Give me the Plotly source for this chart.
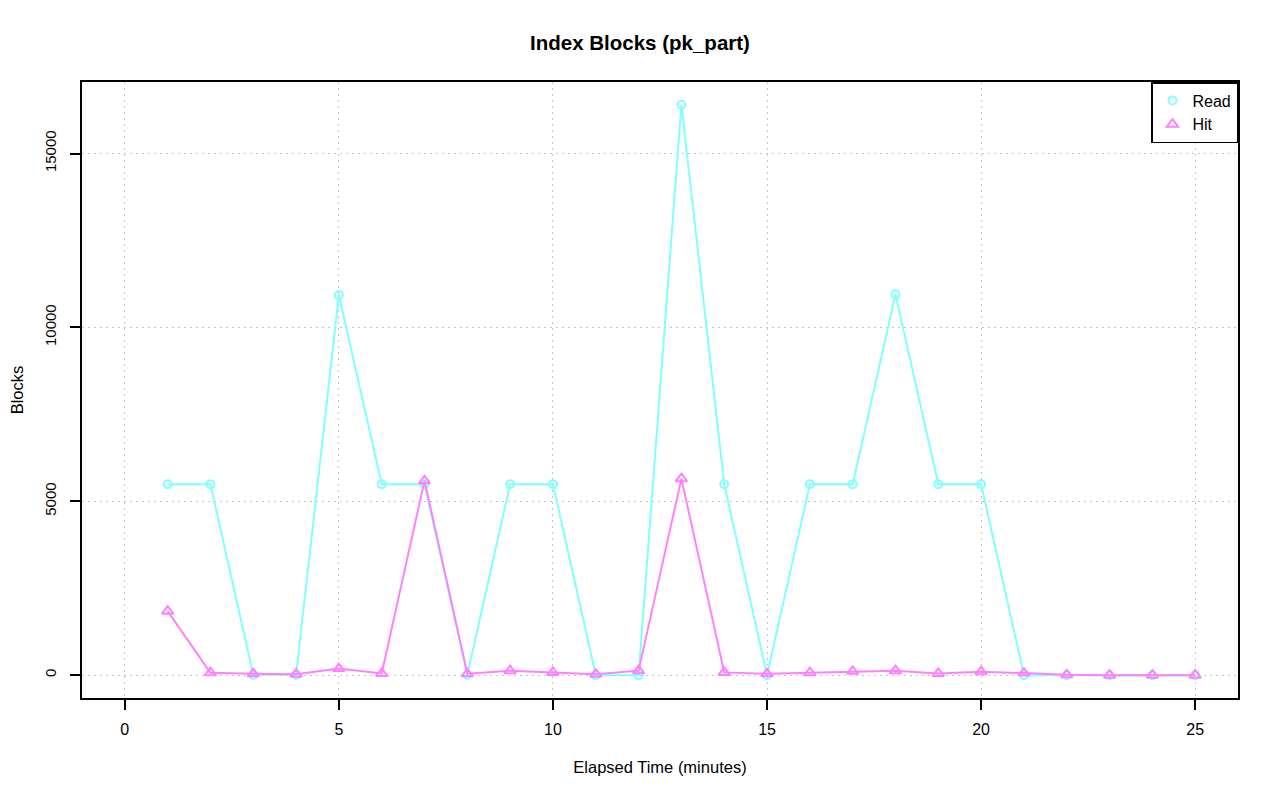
import plotly.graph_objects as go

minutes = list(range(1, 26))
read_blocks = [5490, 5490, 10, 10, 10930, 5490, 5490, 10, 5490, 5490, 0, 0, 16400,
               5490, 0, 5490, 5490, 10950, 5490, 5490, 0, 0, 0, 0, 0]
hit_blocks = [1840, 70, 40, 30, 190, 50, 5590, 40, 130, 80, 30, 130, 5650,
              80, 40, 70, 110, 130, 50, 100, 60, 10, 0, 0, 0]

x_ticks = [0, 5, 10, 15, 20, 25]
y_ticks = [0, 5000, 10000, 15000]

font_family = "Liberation Sans, Arial, sans-serif"
cyan = "#80FFFF"
magenta = "#FF80FF"

# page body has an 8px margin; compensate so the plot lands at the reference position
W, H = 1264, 785

fig = go.Figure()
fig.add_trace(go.Scatter(
    x=minutes, y=read_blocks, name="Read", mode="lines+markers", showlegend=False,
    line=dict(color=cyan, width=2),
    marker=dict(symbol="circle-open", size=8, color=cyan, line=dict(width=2)),
))
fig.add_trace(go.Scatter(
    x=minutes, y=hit_blocks, name="Hit", mode="lines+markers", showlegend=False,
    line=dict(color=magenta, width=2),
    marker=dict(symbol="triangle-up-open", size=10, color=magenta, line=dict(width=2)),
))
# marker-only legend entries
fig.add_trace(go.Scatter(
    x=[None], y=[None], name="Read", mode="markers",
    marker=dict(symbol="circle-open", size=8, color=cyan, line=dict(width=2)),
))
fig.add_trace(go.Scatter(
    x=[None], y=[None], name="Hit", mode="markers",
    marker=dict(symbol="triangle-up-open", size=10, color=magenta, line=dict(width=2)),
))

ymax = max(read_blocks)
pad = ymax * 0.04

fig.update_layout(
    width=W, height=H,
    paper_bgcolor="white", plot_bgcolor="white",
    margin=dict(l=74, r=34, t=74, b=95, autoexpand=False),
    title=dict(text="<b>Index Blocks (pk_part)</b>", x=0.5, xanchor="center",
               y=1 - 35 / H, yanchor="middle",
               font=dict(family=font_family, size=20.5, color="black")),
    font=dict(family=font_family, size=15, color="black"),
    showlegend=True,
    legend=dict(x=1, y=1, xanchor="right", yanchor="top",
                bordercolor="black", borderwidth=1.5, bgcolor="white",
                font=dict(size=16), tracegroupgap=0, itemwidth=30),
    xaxis=dict(
        range=[-1, 26], tickvals=x_ticks, ticktext=[str(t) for t in x_ticks],
        automargin=False,
        showgrid=True, gridcolor="#C4C4C4", griddash="2px,4px", gridwidth=1,
        zeroline=False, showline=True, mirror=True, linecolor="black", linewidth=2,
        ticks="outside", ticklen=10, tickwidth=1.5, tickcolor="black",
        tickfont=dict(size=16), ticklabelstandoff=6,
        title=dict(text="Elapsed Time (minutes)", font=dict(size=16.5), standoff=24),
    ),
    yaxis=dict(
        range=[-pad, ymax + pad], tickvals=y_ticks, ticktext=[str(t) for t in y_ticks],
        automargin=False,
        showgrid=True, gridcolor="#C4C4C4", griddash="2px,4px", gridwidth=1,
        zeroline=False, showline=True, mirror=True, linecolor="black", linewidth=2,
        ticks="outside", ticklen=10, tickwidth=1.5, tickcolor="black",
        tickangle=-90, tickfont=dict(size=15), ticklabelstandoff=8,
        title=dict(text="Blocks", font=dict(size=16.5), standoff=18),
    ),
)

fig.write_html("out.html")
